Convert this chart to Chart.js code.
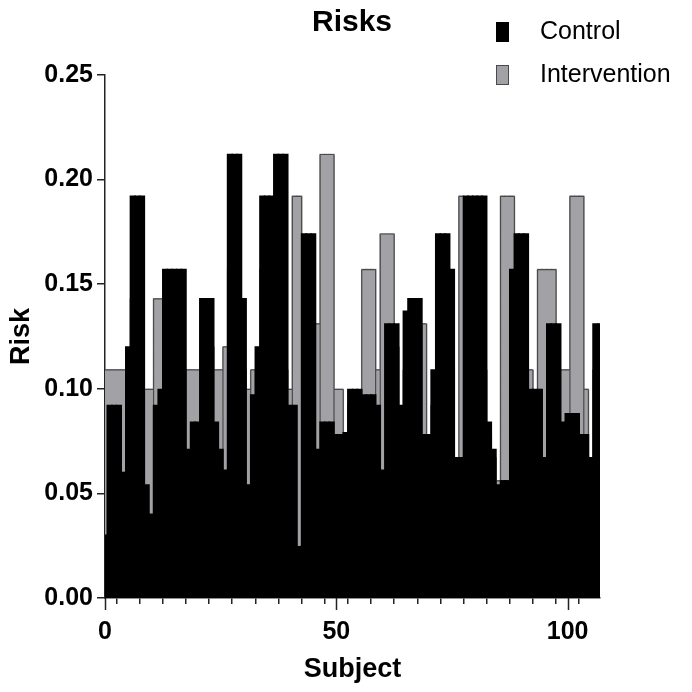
<!DOCTYPE html>
<html>
<head>
<meta charset="utf-8">
<title>Risks</title>
<script src="https://cdn.jsdelivr.net/npm/chart.js@4.4.1/dist/chart.umd.min.js"></script>
<style>
    html, body { margin: 0; padding: 0; background: #fff; }
    #wrap { width: 692px; height: 692px; position: relative; }
</style>
</head>
<body>
<div id="wrap"><canvas id="riskChart" width="692" height="692"></canvas></div>
<script>
// Risk per subject (subject 0..107)
const controlRisk = [
    0.030, 0.092, 0.092, 0.092, 0.060, 0.120, 0.192, 0.192, 0.192, 0.054,
    0.040, 0.092, 0.0997, 0.157, 0.157, 0.157, 0.157, 0.157, 0.071, 0.084,
    0.084, 0.143, 0.143, 0.143, 0.084, 0.071, 0.061, 0.212, 0.212, 0.212,
    0.143, 0.054, 0.097, 0.120, 0.192, 0.192, 0.192, 0.212, 0.212, 0.212,
    0.092, 0.092, 0.0245, 0.174, 0.174, 0.174, 0.071, 0.084, 0.084, 0.084,
    0.078, 0.078, 0.079, 0.0997, 0.0997, 0.0997, 0.097, 0.097, 0.097, 0.092,
    0.061, 0.131, 0.131, 0.131, 0.092, 0.137, 0.143, 0.143, 0.143, 0.078,
    0.078, 0.109, 0.174, 0.174, 0.174, 0.157, 0.067, 0.067, 0.192, 0.192,
    0.192, 0.192, 0.192, 0.084, 0.071, 0.054, 0.056, 0.056, 0.157, 0.174,
    0.174, 0.174, 0.0997, 0.0997, 0.0997, 0.067, 0.131, 0.131, 0.131, 0.084,
    0.088, 0.088, 0.088, 0.078, 0.078, 0.067, 0.131, 0.131
];
const interventionRisk = [
    0.109, 0.109, 0.109, 0.109, 0.109, 0.092, 0.143, 0.120, 0.071, 0.0997,
    0.0997, 0.143, 0.143, 0.109, 0.092, 0.120, 0.131, 0.0997, 0.109, 0.109,
    0.109, 0.109, 0.092, 0.120, 0.109, 0.109, 0.120, 0.157, 0.192, 0.143,
    0.109, 0.0997, 0.109, 0.092, 0.157, 0.120, 0.174, 0.143, 0.192, 0.109,
    0.0997, 0.192, 0.192, 0.143, 0.109, 0.131, 0.131, 0.212, 0.212, 0.212,
    0.0997, 0.0997, 0.067, 0.092, 0.078, 0.084, 0.157, 0.157, 0.157, 0.109,
    0.174, 0.174, 0.174, 0.120, 0.084, 0.109, 0.131, 0.0997, 0.120, 0.131,
    0.067, 0.092, 0.157, 0.143, 0.131, 0.109, 0.061, 0.192, 0.174, 0.157,
    0.143, 0.131, 0.109, 0.078, 0.067, 0.056, 0.192, 0.192, 0.192, 0.143,
    0.120, 0.109, 0.109, 0.092, 0.157, 0.157, 0.157, 0.157, 0.109, 0.109,
    0.109, 0.192, 0.192, 0.192, 0.0997, 0.054, 0.109, 0.092
];
const subjects = controlRisk.map(function (v, i) { return i; });
const xMajorTicks = [0, 50, 100];
const yTicks = [0, 0.05, 0.10, 0.15, 0.20, 0.25];

const FONT = 'Arial, "Liberation Sans", sans-serif';
const GREY = '#a2a2a6';
const GREY_EDGE = '#4a4a4a';

function toPoints(values) {
    return values.map(function (v, i) { return { x: subjects[i], y: v }; });
}

// Outline the grey bars (top + outer edges of equal runs), before black is drawn on top
const greyOutlinePlugin = {
    id: 'greyOutline',
    afterDatasetDraw: function (chart, args) {
        if (args.index !== 1) return;
        const ctx = chart.ctx;
        const area = chart.chartArea;
        const bars = args.meta.data;
        const vals = interventionRisk;
        ctx.save();
        ctx.beginPath();
        ctx.rect(area.left, area.top, area.right - area.left, area.bottom - area.top);
        ctx.clip();
        ctx.strokeStyle = GREY_EDGE;
        ctx.lineWidth = 1.2;
        ctx.beginPath();
        bars.forEach(function (bar, i) {
            const l = bar.x - bar.width / 2;
            const r = bar.x + bar.width / 2;
            ctx.moveTo(l, bar.y);
            ctx.lineTo(r, bar.y);
            if (i === 0 || vals[i - 1] !== vals[i]) {
                ctx.moveTo(l, bar.y);
                ctx.lineTo(l, bar.base);
            }
            if (i === bars.length - 1 || vals[i + 1] !== vals[i]) {
                ctx.moveTo(r, bar.y);
                ctx.lineTo(r, bar.base);
            }
        });
        ctx.stroke();
        ctx.restore();
    }
};

// Title and legend drawn in the top band, like the original
const headerPlugin = {
    id: 'header',
    afterDraw: function (chart) {
        const ctx = chart.ctx;
        ctx.save();
        ctx.fillStyle = '#000';
        ctx.font = 'bold 30px ' + FONT;
        ctx.textAlign = 'center';
        ctx.textBaseline = 'middle';
        ctx.fillText('Risks', 352, 23);

        ctx.font = '25px ' + FONT;
        ctx.textAlign = 'left';
        chart.data.datasets.forEach(function (ds, i) {
            const y = 22 + i * 43;
            ctx.fillStyle = ds.backgroundColor;
            ctx.fillRect(496, y, 13, 20);
            ctx.strokeStyle = i === 0 ? '#000' : GREY_EDGE;
            ctx.lineWidth = 1;
            ctx.strokeRect(496.5, y + 0.5, 12, 19);
            ctx.fillStyle = '#000';
            ctx.fillText(ds.label, 540, y + 10);
        });
        ctx.restore();
    }
};

// Longer ticks at 0, 50, 100
const majorTickPlugin = {
    id: 'majorTicks',
    afterDraw: function (chart) {
        const ctx = chart.ctx;
        const xs = chart.scales.x;
        ctx.save();
        ctx.strokeStyle = '#222';
        ctx.lineWidth = 1.5;
        xMajorTicks.forEach(function (t) {
            const px = Math.round(xs.getPixelForValue(t)) + 0.5;
            ctx.beginPath();
            ctx.moveTo(px, xs.top);
            ctx.lineTo(px, xs.top + 12);
            ctx.stroke();
        });
        ctx.restore();
    }
};

function initChart() {
    const ctx = document.getElementById('riskChart');
    new Chart(ctx, {
        type: 'bar',
        data: {
            datasets: [{
                label: 'Control',
                data: toPoints(controlRisk),
                backgroundColor: '#000000',
                borderColor: '#000000',
                borderWidth: 0,
                inflateAmount: 0.8,
                clip: 0
            }, {
                label: 'Intervention',
                data: toPoints(interventionRisk),
                backgroundColor: GREY,
                borderColor: GREY_EDGE,
                borderWidth: 0,
                inflateAmount: 0.8,
                clip: 0
            }]
        },
        options: {
            responsive: false,
            animation: false,
            devicePixelRatio: 1,
            grouped: false,
            barPercentage: 1,
            categoryPercentage: 1,
            layout: { padding: { top: 75, right: 92, left: 0, bottom: 0 } },
            plugins: {
                legend: { display: false },
                title: { display: false },
                tooltip: { enabled: false }
            },
            scales: {
                x: {
                    type: 'linear',
                    min: 0,
                    max: 107,
                    offset: false,
                    grid: { display: true, drawOnChartArea: false, drawTicks: true, tickLength: 6, color: '#222', lineWidth: 1.5 },
                    border: { display: true, color: '#222', width: 1.5 },
                    afterBuildTicks: function (scale) {
                        const t = [];
                        for (let v = 0; v <= 105; v += 5) t.push({ value: v });
                        scale.ticks = t;
                    },
                    afterFit: function (scale) { scale.height = 94; },
                    ticks: {
                        autoSkip: false,
                        maxRotation: 0,
                        padding: 13,
                        color: '#000',
                        font: { family: FONT, size: 25, weight: 'bold' },
                        callback: function (v) { return xMajorTicks.indexOf(v) >= 0 ? String(v) : ''; }
                    },
                    title: {
                        display: true,
                        text: 'Subject',
                        color: '#000',
                        padding: { top: 0, bottom: 6 },
                        font: { family: FONT, size: 27, weight: 'bold' }
                    }
                },
                y: {
                    min: 0,
                    max: 0.25,
                    grid: { display: true, drawOnChartArea: false, drawTicks: true, tickLength: 8, color: '#222', lineWidth: 1.5 },
                    border: { display: true, color: '#222', width: 1.5 },
                    afterBuildTicks: function (scale) {
                        scale.ticks = yTicks.map(function (v) { return { value: v }; });
                    },
                    afterFit: function (scale) { scale.width = 105; },
                    ticks: {
                        padding: 4,
                        color: '#000',
                        font: { family: FONT, size: 25, weight: 'bold' },
                        callback: function (v) { return Number(v).toFixed(2); }
                    },
                    title: {
                        display: true,
                        text: 'Risk',
                        color: '#000',
                        padding: { top: 5, bottom: 0 },
                        font: { family: FONT, size: 27, weight: 'bold' }
                    }
                }
            }
        },
        plugins: [greyOutlinePlugin, headerPlugin, majorTickPlugin]
    });
}

document.addEventListener('DOMContentLoaded', function () {
    initChart();
});
</script>
</body>
</html>
